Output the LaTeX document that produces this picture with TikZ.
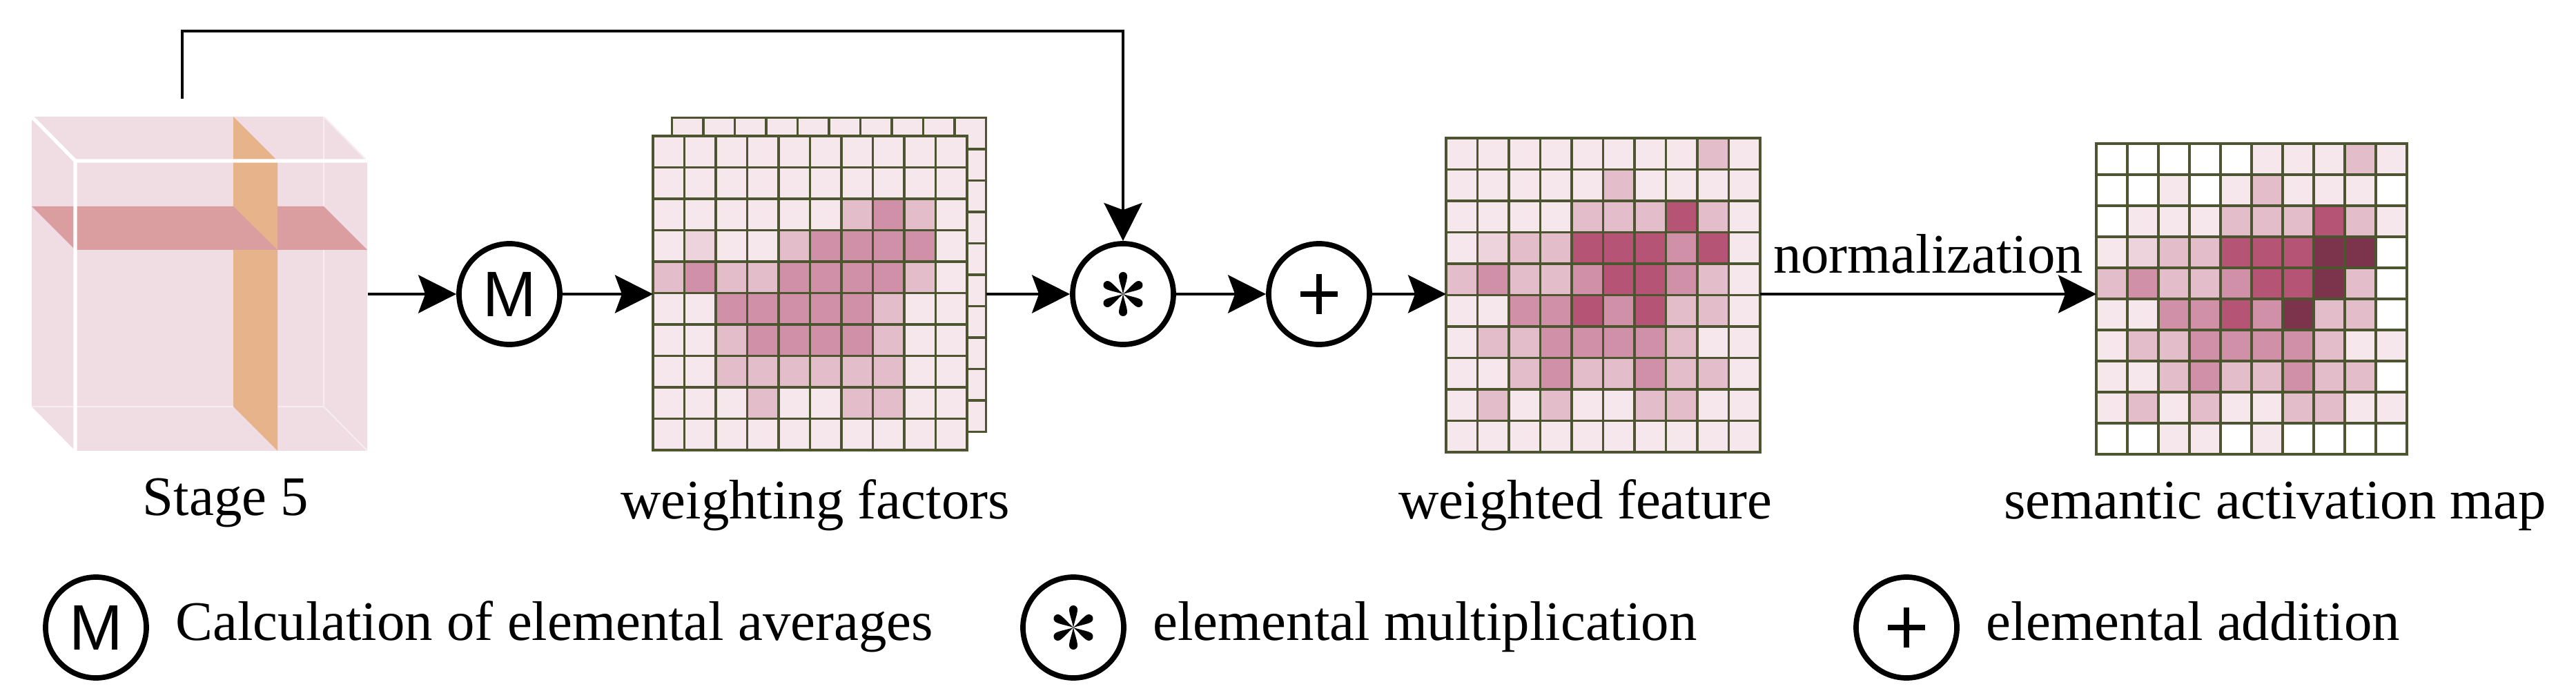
\documentclass[tikz,border=0pt]{standalone}
\usepackage{fontspec}
\setmainfont{Liberation Serif}
\setsansfont{Liberation Sans}
\usetikzlibrary{arrows.meta,positioning}
\definecolor{gridline}{HTML}{4D5530}
\definecolor{shade0}{HTML}{FFFFFF}
\definecolor{shade1}{HTML}{F5E7EC}
\definecolor{shade2}{HTML}{EDD3DC}
\definecolor{shade3}{HTML}{E3BDCA}
\definecolor{shade4}{HTML}{D091A8}
\definecolor{shade5}{HTML}{B65476}
\definecolor{shade6}{HTML}{7B344C}
\definecolor{cubeface}{HTML}{F0DCE3}
\definecolor{cubeedge}{HTML}{F7ECF0}
\definecolor{rowslice}{HTML}{DA9EA1}
\definecolor{colslice}{HTML}{E6B38B}
\newcommand{\cellgrid}[3]{%
  \foreach \row [count=\ri] in {#3} {%
    \foreach \val [count=\ci] in \row {%
      \filldraw[cell,fill=shade\val] ([shift={({(\ci-1)*#2},{-\ri*#2})}]#1.north west) rectangle ++(#2,#2);
    }
  }%
}

\begin{document}
\begin{tikzpicture}[font=\fontsize{23}{28}\selectfont]
    \tikzset{op/.style = {shape=circle,draw,line width=2.2pt,minimum size=1.46cm,inner sep=0pt}}
    \tikzset{meanop/.style = {op,font=\sffamily\fontsize{26.5}{30}\selectfont}}
    \tikzset{asterisk/.pic = {
        \foreach \ang in {0,60,...,300}
          \fill[rotate=\ang] (0,0) .. controls (-0.02,0.1) and (-0.06,0.2) .. (-0.06,0.26)
            arc[start angle=180,end angle=0,radius=0.06]
            .. controls (0.06,0.2) and (0.02,0.1) .. (0,0);}}
    \tikzset{addop/.style = {op,path picture={
        \draw[line width=2.2pt] ([xshift=-0.27cm]path picture bounding box.center) -- ([xshift=0.27cm]path picture bounding box.center);
        \draw[line width=2.4pt] ([yshift=-0.29cm]path picture bounding box.center) -- ([yshift=0.29cm]path picture bounding box.center);}}}
    \tikzset{edge/.style = {-{Stealth[length=0.55cm,width=0.55cm,inset=0.1cm]},line width=1.4pt}}
    \tikzset{cell/.style = {draw=gridline,line width=1pt}}
    \tikzset{gridbox/.style = {inner sep=0pt,outer sep=0pt,minimum size=4.55cm}}
    \tikzset{legendtext/.style = {inner sep=0pt,text height=0.56cm,text depth=0.18cm}}
    \useasboundingbox (0,0) rectangle (37.32,10.13);
    % vertices
    \node[inner sep=0pt,minimum width=4.23cm,minimum height=4.2cm] (stage) at (3.205,5.70) {};
    \node[meanop] (mean) at (7.38,5.87) {M};
    \node[gridbox] (back) at (12.01,6.15) {};
    \node[gridbox] (weights) at (11.735,5.885) {};
    \node[op] (mult) at (16.27,5.87) {};
    \pic at (mult) {asterisk};
    \node[addop] (add) at (19.11,5.87) {};
    \node[gridbox] (feat) at (23.225,5.855) {};
    \node[gridbox,minimum size=4.5cm] (sam) at (32.62,5.80) {};
    \coordinate (skip) at (2.64,8.70);
    % stage 5 cube
    \fill[cubeface] (0.46,8.44) -- (4.69,8.44) -- (5.32,7.80) -- (5.32,3.60) -- (1.09,3.60) -- (0.46,4.24) -- cycle;
    \draw[cubeedge,line width=0.6pt] (4.69,8.44) -- (4.69,4.24) -- (0.46,4.24) (4.69,4.24) -- (5.32,3.60) (4.69,8.44) -- (5.32,7.80);
    \fill[rowslice] (0.46,7.14) -- (4.69,7.14) -- (5.32,6.51) -- (1.09,6.51) -- cycle;
    \fill[colslice] (3.38,8.44) -- (4.02,7.80) -- (4.02,3.60) -- (3.38,4.24) -- cycle;
    \fill[rowslice] (3.38,7.14) -- (4.02,6.51) -- (3.38,6.51) -- cycle;
    \draw[white,line width=1.5pt] (0.46,8.44) -- (1.09,7.80) -- (5.32,7.80) (1.09,7.80) -- (1.09,3.60);
    % feature maps
    \foreach \i in {0,...,9}
      \foreach \j in {1,...,10}
        \filldraw[cell,fill=shade1] ([shift={(\i*0.455,-\j*0.455)}]back.north west) rectangle ++(0.455,0.455);
    \cellgrid{weights}{0.455}{{1,1,1,1,1,1,1,1,1,1},{1,1,1,1,1,1,1,1,1,1},{1,1,1,1,1,1,3,4,3,1},
      {1,2,1,1,3,4,4,4,4,1},{3,4,3,3,4,4,4,4,3,1},{1,1,4,4,4,4,4,3,1,1},{1,1,3,4,4,4,4,3,1,1},
      {1,1,3,3,3,3,3,3,1,1},{1,1,1,3,1,1,3,3,1,1},{1,1,1,1,1,1,1,1,1,1}}
    \cellgrid{feat}{0.455}{{1,1,1,1,1,1,1,1,3,1},{1,1,1,1,1,3,1,1,1,1},{1,1,1,1,3,3,3,5,3,1},
      {1,2,3,3,5,5,5,4,5,1},{3,4,3,3,4,5,5,4,3,1},{1,1,4,4,5,4,5,3,3,1},{1,3,3,4,4,4,4,3,1,1},
      {1,1,3,4,3,3,4,3,3,1},{1,3,1,3,1,1,3,3,1,1},{1,1,1,1,1,1,1,1,1,1}}
    \cellgrid{sam}{0.45}{{0,0,0,0,0,1,1,1,3,1},{0,0,1,0,1,3,1,1,1,0},{0,1,1,1,3,3,3,5,3,1},
      {1,2,3,3,5,5,5,6,6,0},{3,4,3,3,4,5,5,6,3,0},{1,1,4,4,5,4,6,3,3,0},{1,3,3,4,4,4,4,3,1,1},
      {1,1,3,4,3,3,4,3,3,0},{1,3,1,3,1,1,3,3,1,1},{0,0,1,1,0,1,0,0,0,0}}
    % edges
    \draw[edge] (stage.east |- mean) -- (mean);
    \draw[edge] (mean) -- (mean -| weights.west);
    \draw[edge] (mean -| back.east) -- (mult);
    \draw[edge] (mult) -- (add);
    \draw[edge] (add) -- (add -| feat.west);
    \draw[edge] (feat.east |- add) -- (add -| sam.west) node[midway,above=0.16cm] {normalization};
    \draw[edge] (skip) -- ++(0,0.98) -| (mult);
    % captions
    \node[anchor=base] (stagetext) at (3.27,2.66) {Stage 5};
    \node[anchor=base] (weightstext) at (11.81,2.62) {weighting factors};
    \node[anchor=base] (feattext) at (22.97,2.62) {weighted feature};
    \node[anchor=base] (samtext) at (32.96,2.62) {semantic activation map};
    % legend
    \node[meanop] (legmean) at (1.39,1.04) {M};
    \node[legendtext,right=0.38cm of legmean] (legmeantext) {Calculation of elemental averages};
    \node[op] (legmult) at (15.55,1.04) {};
    \pic at (legmult) {asterisk};
    \node[legendtext,right=0.38cm of legmult] (legmulttext) {elemental multiplication};
    \node[addop] (legadd) at (27.62,1.04) {};
    \node[legendtext,right=0.38cm of legadd] (legaddtext) {elemental addition};
\end{tikzpicture}
\end{document}
